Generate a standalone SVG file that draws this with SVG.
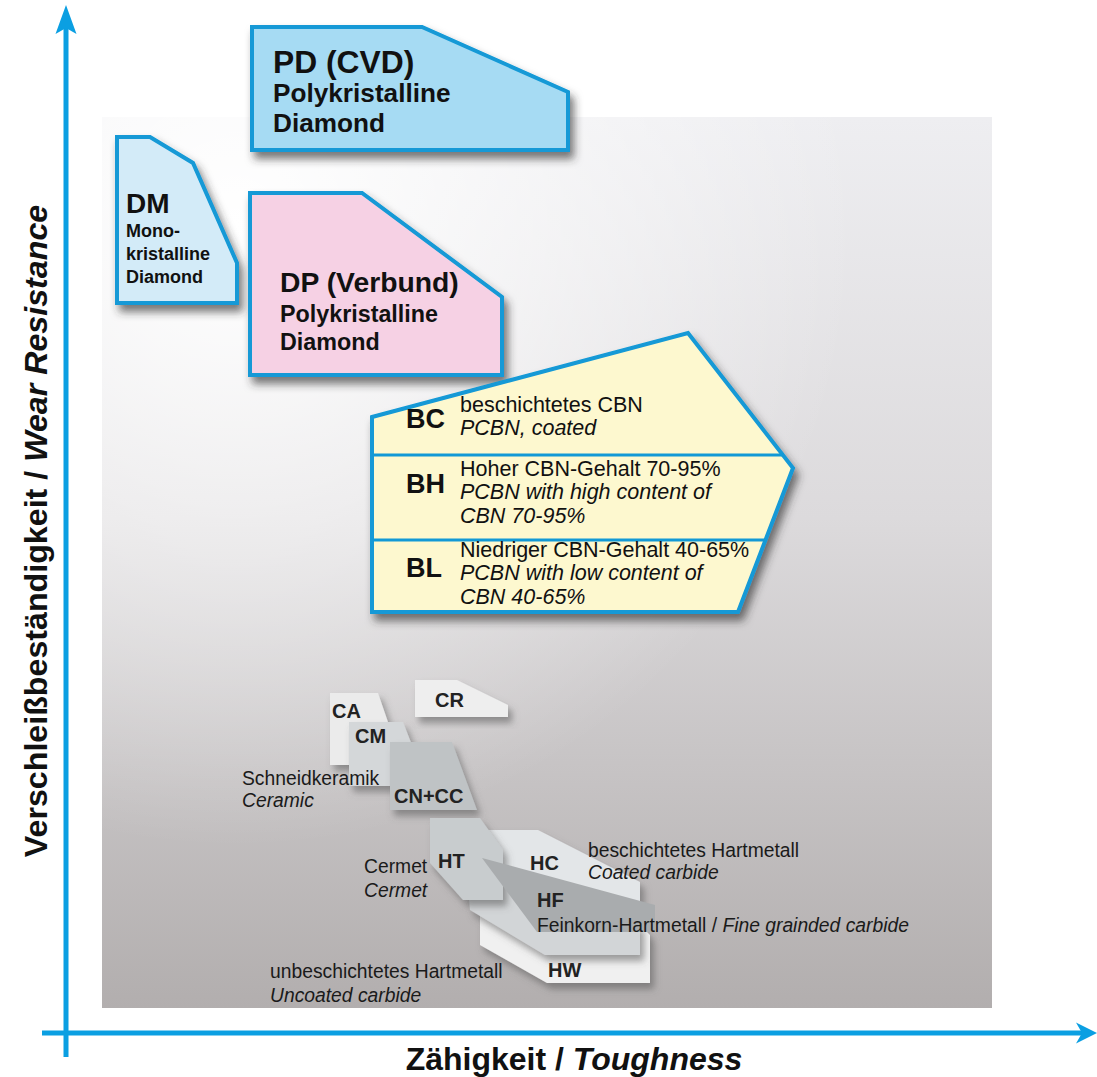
<svg xmlns="http://www.w3.org/2000/svg" width="1097" height="1077" viewBox="0 0 1097 1077">
<style>
text{font-family:"Liberation Sans",Arial,Helvetica,sans-serif;fill:#111}
.b{font-weight:bold}
.i{font-style:italic}
.blue{stroke:#1299d6;stroke-width:4;stroke-linejoin:miter}
.div{stroke:#1299d6;stroke-width:3}
.axis{stroke:#0b9fe2;stroke-width:5;fill:none}
.ah{fill:#0b9fe2}
.gl{font-weight:bold;font-size:20px;fill:#222}
.gt{font-size:19.3px;fill:#1a1a1a}
.bt{font-size:21.5px}
.bl{font-weight:bold;font-size:27px}
</style>
<defs>
<linearGradient id="bgv" x1="0" y1="0" x2="0" y2="1">
<stop offset="0" stop-color="#eeeef1"/>
<stop offset="0.45" stop-color="#dcdadc"/>
<stop offset="1" stop-color="#b2aeae"/>
</linearGradient>
<radialGradient id="bgr" cx="0.15" cy="0.12" r="0.7">
<stop offset="0" stop-color="#ffffff" stop-opacity="1"/>
<stop offset="0.45" stop-color="#ffffff" stop-opacity="0.55"/>
<stop offset="1" stop-color="#ffffff" stop-opacity="0"/>
</radialGradient>
<filter id="sh" x="-20%" y="-20%" width="150%" height="150%">
<feDropShadow dx="4" dy="7" stdDeviation="4" flood-color="#333" flood-opacity="0.65"/>
</filter>
<filter id="shg" x="-20%" y="-20%" width="150%" height="150%">
<feDropShadow dx="4" dy="6" stdDeviation="3.5" flood-color="#555" flood-opacity="0.55"/>
</filter>
</defs>

<g id="background">
<rect x="102" y="117" width="890" height="891" fill="url(#bgv)"/>
<rect x="102" y="117" width="890" height="891" fill="url(#bgr)"/>
</g>

<g id="axes">
<line class="axis" x1="66" y1="28" x2="66" y2="1057"/>
<line class="axis" x1="42" y1="1033" x2="1082" y2="1033"/>
<polygon class="ah" points="66,5 76.5,34 66,28 55.5,34"/>
<polygon class="ah" points="1097,1033 1076,1043.5 1082,1033 1076,1022.5"/>
<text class="b" x="574" y="1070" font-size="32" text-anchor="middle">Zähigkeit / <tspan class="i">Toughness</tspan></text>
<text class="b" font-size="32.2" text-anchor="middle" transform="translate(47,531) rotate(-90)">Verschleißbeständigkeit / <tspan class="i">Wear Resistance</tspan></text>
</g>

<g id="node-PD">
<polygon class="blue" filter="url(#sh)" fill="#a6dbf3" points="252,27 422,27 568,92 568,150 252,150"/>
<text class="b" x="273" y="73" font-size="31.8">PD (CVD)</text>
<text class="b" x="273" y="102" font-size="26.2">Polykristalline</text>
<text class="b" x="273" y="132" font-size="26.2">Diamond</text>
</g>

<g id="node-DM">
<polygon class="blue" filter="url(#sh)" fill="#d3ebf8" points="117,137 150,137 193,163 237,263 237,303 117,303"/>
<text class="b" x="126" y="213" font-size="28">DM</text>
<text class="b" x="126" y="237" font-size="18">Mono-</text>
<text class="b" x="126" y="260" font-size="18">kristalline</text>
<text class="b" x="126" y="283" font-size="18">Diamond</text>
</g>

<g id="node-DP">
<polygon class="blue" filter="url(#sh)" fill="#f6d1e4" points="250,193 362,193 502,297 502,375 250,375"/>
<text class="b" x="280" y="292" font-size="28.3">DP (Verbund)</text>
<text class="b" x="280" y="322" font-size="23.3">Polykristalline</text>
<text class="b" x="280" y="350" font-size="23.3">Diamond</text>
</g>

<g id="node-B">
<polygon class="blue" filter="url(#sh)" fill="#fdf8cf" points="372,417 688,333 793,468 738,612 372,612"/>
<line class="div" x1="372" y1="455" x2="783" y2="455"/>
<line class="div" x1="372" y1="540" x2="765" y2="540"/>
<g id="node-BC">
<text class="bl" x="406" y="428">BC</text>
<text class="bt" x="460" y="412">beschichtetes CBN</text>
<text class="bt i" x="460" y="435">PCBN, coated</text>
</g>
<g id="node-BH">
<text class="bl" x="406" y="493">BH</text>
<text class="bt" x="460" y="476">Hoher CBN-Gehalt 70-95%</text>
<text class="bt i" x="460" y="499">PCBN with high content of</text>
<text class="bt i" x="460" y="523">CBN 70-95%</text>
</g>
<g id="node-BL">
<text class="bl" x="406" y="577">BL</text>
<text class="bt" x="460" y="557">Niedriger CBN-Gehalt 40-65%</text>
<text class="bt i" x="460" y="580">PCBN with low content of</text>
<text class="bt i" x="460" y="604">CBN 40-65%</text>
</g>
</g>

<g id="node-CR">
<polygon filter="url(#shg)" fill="#eeeeee" points="415,680 457,680 508,705 508,717 415,717"/>
<text class="gl" x="435" y="707">CR</text>
</g>
<g id="node-CA">
<polygon filter="url(#shg)" fill="#ebebeb" points="330,693 378,693 388,722 388,765 330,765"/>
<text class="gl" x="332" y="718">CA</text>
</g>
<g id="node-CM">
<polygon filter="url(#shg)" fill="#d4d7d9" points="349,722 403,722 412,745 412,786 349,786"/>
<text class="gl" x="355" y="743">CM</text>
</g>
<g id="node-CNCC">
<polygon filter="url(#shg)" fill="#bfc3c5" points="390,742 452,742 477,810 390,810"/>
<text class="gl" x="394" y="803">CN+CC</text>
</g>
<g id="label-ceramic">
<text class="gt" x="242" y="785">Schneidkeramik</text>
<text class="gt i" x="242" y="807">Ceramic</text>
</g>

<g id="node-HW">
<polygon filter="url(#shg)" fill="#f0f0f0" points="480,915 630,915 650,935 650,983 547,983 480,945"/>
<text class="gl" x="548" y="977">HW</text>
</g>
<g id="node-HFbase">
<polygon filter="url(#shg)" fill="#d2d5d7" points="466,868 505,868 640,925 640,955 545,955 470,910"/>
</g>
<g id="node-HC">
<polygon filter="url(#shg)" fill="#e3e6e8" points="487,830 538,830 640,882 640,902 500,872"/>
<text class="gl" x="530" y="870">HC</text>
</g>
<g id="node-HT">
<polygon filter="url(#shg)" fill="#c8ccce" points="430,818 480,818 503,850 503,900 463,900 430,863"/>
<text class="gl" x="438" y="868">HT</text>
</g>
<g id="node-HF">
<polygon fill="#a9acae" points="482,858 655,905 655,932 537,932"/>
<text class="gl" x="537" y="907">HF</text>
</g>

<g id="labels-carbide">
<text class="gt" x="364" y="873">Cermet</text>
<text class="gt i" x="364" y="897">Cermet</text>
<text class="gt" x="588" y="857">beschichtetes Hartmetall</text>
<text class="gt i" x="588" y="879">Coated carbide</text>
<text class="gt" x="537" y="932">Feinkorn-Hartmetall / <tspan class="i">Fine grainded carbide</tspan></text>
<text class="gt" x="270" y="978">unbeschichtetes Hartmetall</text>
<text class="gt i" x="270" y="1002">Uncoated carbide</text>
</g>
</svg>
